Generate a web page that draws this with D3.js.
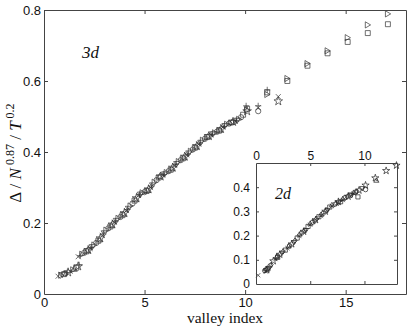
<!DOCTYPE html>
<html>
<head>
<meta charset="utf-8">
<script src="https://cdn.jsdelivr.net/npm/d3@7"></script>
<style>
  body { margin: 0; background: #fff; }
  svg { display: block; }
  .tick text { font-family: "Liberation Sans", Arial, sans-serif; fill: #111; }
  .serif { font-family: "Liberation Serif", "Times New Roman", serif; fill: #111; }
</style>
</head>
<body>
<div id="chart"></div>
<script>
// main panel (3d): one x/y array pair per marker type
const mainTriRightX = [0.85, 1.45, 1.9, 2.5, 3.1, 3.7, 4.3, 4.9, 5.5, 6.1, 6.7, 7.3, 7.9, 8.5, 9.1, 9.7, 10.1, 11.1, 12.1, 13.1, 14.1, 15.1, 16.1, 17.1]
const mainTriRightY = [0.053, 0.068, 0.112, 0.138, 0.180, 0.213, 0.248, 0.285, 0.315, 0.342, 0.373, 0.402, 0.433, 0.454, 0.478, 0.492, 0.518, 0.562, 0.607, 0.649, 0.685, 0.722, 0.758, 0.789]
const mainSquareX = [1.0, 1.6, 2.1, 2.7, 3.3, 3.9, 4.5, 5.1, 5.7, 6.3, 6.9, 7.5, 8.1, 8.7, 9.3, 9.9, 10.1, 11.1, 12.1, 13.1, 14.1, 15.1, 16.1, 17.1]
const mainSquareY = [0.056, 0.074, 0.120, 0.150, 0.190, 0.222, 0.263, 0.290, 0.328, 0.350, 0.382, 0.412, 0.442, 0.460, 0.483, 0.505, 0.522, 0.568, 0.600, 0.643, 0.678, 0.710, 0.735, 0.760]
const mainCrossX = [0.7, 1.3, 1.7, 2.3, 2.9, 3.5, 4.1, 4.7, 5.3, 5.9, 6.5, 7.1, 7.7, 8.3, 8.9, 9.5, 10.65, 11.65]
const mainCrossY = [0.050, 0.064, 0.105, 0.128, 0.165, 0.202, 0.235, 0.278, 0.300, 0.335, 0.362, 0.392, 0.422, 0.448, 0.470, 0.487, 0.525, 0.556]
const mainPlusX = [1.15, 1.75, 1.8, 2.35, 2.95, 3.55, 4.15, 4.75, 5.35, 5.95, 6.55, 7.15, 7.75, 8.35, 8.95, 9.55, 10.05, 10.65, 11.1]
const mainPlusY = [0.060, 0.082, 0.108, 0.131, 0.169, 0.205, 0.238, 0.280, 0.304, 0.337, 0.365, 0.394, 0.425, 0.450, 0.472, 0.488, 0.530, 0.530, 0.575]
const mainStarX = [1.2, 1.7, 2.2, 2.8, 3.4, 4.0, 4.6, 5.2, 5.8, 6.4, 7.0, 7.6, 8.2, 8.8, 9.4, 10.1, 11.65]
const mainStarY = [0.061, 0.078, 0.124, 0.157, 0.196, 0.228, 0.270, 0.295, 0.331, 0.356, 0.387, 0.417, 0.445, 0.465, 0.485, 0.515, 0.543]
const mainCircleX = [1.05, 2.0, 2.6, 3.2, 3.8, 4.4, 5.0, 5.6, 6.2, 6.8, 7.4, 8.0, 8.6, 9.2, 9.8, 10.65]
const mainCircleY = [0.058, 0.116, 0.144, 0.185, 0.217, 0.255, 0.287, 0.321, 0.346, 0.377, 0.407, 0.437, 0.457, 0.480, 0.498, 0.515]
const mainTriDownX = [0.9, 2.4, 3.0, 3.6, 4.2, 4.8, 5.4, 6.0, 6.6, 7.2, 7.8, 8.4, 9.0, 9.6]
const mainTriDownY = [0.054, 0.133, 0.172, 0.207, 0.241, 0.281, 0.307, 0.338, 0.367, 0.397, 0.427, 0.451, 0.474, 0.489]
const mainTriUpX = [1.5, 2.15, 2.75, 3.35, 3.95, 4.55, 5.15, 5.75, 6.35, 6.95, 7.55, 8.15, 8.75, 9.35]
const mainTriUpY = [0.070, 0.122, 0.153, 0.193, 0.225, 0.266, 0.292, 0.331, 0.353, 0.384, 0.414, 0.443, 0.462, 0.484]

// inset (2d)
const insetCrossX = [0.2, 0.9, 1.8, 2.9, 4.0, 5.0, 6.0, 7.0, 8.0, 9.0]
const insetCrossY = [0.036, 0.052, 0.103, 0.148, 0.198, 0.245, 0.282, 0.322, 0.347, 0.374]
const insetCircleX = [0.8, 1.3, 2.0, 3.1, 4.2, 5.2, 6.2, 7.3, 8.2, 9.2, 10.1]
const insetCircleY = [0.055, 0.075, 0.115, 0.158, 0.210, 0.255, 0.292, 0.330, 0.357, 0.380, 0.390]
const insetStarX = [1.0, 1.6, 2.2, 3.3, 4.4, 5.5, 6.4, 7.6, 8.5, 9.5, 10.1, 11.0, 12.0, 12.95]
const insetStarY = [0.058, 0.095, 0.122, 0.165, 0.217, 0.265, 0.300, 0.340, 0.362, 0.387, 0.408, 0.438, 0.468, 0.490]
const insetSquareX = [1.1, 2.0, 2.7, 3.8, 4.8, 5.8, 6.8, 7.8, 8.7, 9.4]
const insetSquareY = [0.062, 0.110, 0.140, 0.190, 0.238, 0.278, 0.318, 0.340, 0.368, 0.360]
const insetTriDownX = [1.2, 2.4, 3.5, 4.6, 5.4, 6.6, 7.6, 8.8, 9.8]
const insetTriDownY = [0.066, 0.128, 0.172, 0.222, 0.258, 0.305, 0.335, 0.366, 0.395]
const insetTriUpX = [0.9, 1.9, 3.0, 4.0, 5.0, 6.0, 7.0, 8.0, 9.0, 11.1]
const insetTriUpY = [0.062, 0.112, 0.156, 0.205, 0.250, 0.287, 0.327, 0.352, 0.378, 0.428]
const insetDiamondX = [1.4, 2.5, 3.6, 4.5, 5.6, 6.5, 7.4, 8.4, 9.3]
const insetDiamondY = [0.080, 0.135, 0.180, 0.222, 0.270, 0.305, 0.333, 0.360, 0.383]

const mainXTicks = [0, 5, 10, 15]
const mainYTicks = [0, 0.2, 0.4, 0.6, 0.8]
const insetXTicks = [0, 5, 10]
const insetYTicks = [0, 0.1, 0.2, 0.3, 0.4]

const mainSeries = [
    { shape: 'triRight', xs: mainTriRightX, ys: mainTriRightY },
    { shape: 'square', xs: mainSquareX, ys: mainSquareY },
    { shape: 'triDown', xs: mainTriDownX, ys: mainTriDownY },
    { shape: 'triUp', xs: mainTriUpX, ys: mainTriUpY },
    { shape: 'circle', xs: mainCircleX, ys: mainCircleY },
    { shape: 'cross', xs: mainCrossX, ys: mainCrossY },
    { shape: 'plus', xs: mainPlusX, ys: mainPlusY },
    { shape: 'star', xs: mainStarX, ys: mainStarY },
]
const insetSeries = [
    { shape: 'square', xs: insetSquareX, ys: insetSquareY },
    { shape: 'triDown', xs: insetTriDownX, ys: insetTriDownY },
    { shape: 'triUp', xs: insetTriUpX, ys: insetTriUpY },
    { shape: 'diamond', xs: insetDiamondX, ys: insetDiamondY },
    { shape: 'circle', xs: insetCircleX, ys: insetCircleY },
    { shape: 'cross', xs: insetCrossX, ys: insetCrossY },
    { shape: 'star', xs: insetStarX, ys: insetStarY },
]

const W = 409
const H = 328
const FRAME = '#444'

const svg = d3.select('#chart').append('svg')
    .attr('width', W)
    .attr('height', H)

function markerPath(shape, s) {
    switch (shape) {
        case 'triRight':
            return `M${-s * 0.8},${-s}L${s * 0.9},0L${-s * 0.8},${s}Z`
        case 'triDown':
            return `M${-s},${-s * 0.7}L${s},${-s * 0.7}L0,${s}Z`
        case 'triUp':
            return `M${-s},${s * 0.7}L${s},${s * 0.7}L0,${-s}Z`
        case 'square':
            return `M${-s * 0.8},${-s * 0.8}h${s * 1.6}v${s * 1.6}h${-s * 1.6}Z`
        case 'cross':
            return `M${-s * 0.8},${-s * 0.8}L${s * 0.8},${s * 0.8}M${-s * 0.8},${s * 0.8}L${s * 0.8},${-s * 0.8}`
        case 'plus':
            return `M${-s},0L${s},0M0,${-s}L0,${s}`
        case 'diamond':
            return `M0,${-s}L${s * 0.8},0L0,${s}L${-s * 0.8},0Z`
        case 'circle':
            return d3.symbol(d3.symbolCircle, Math.PI * (s * 0.85) ** 2)()
        case 'star':
            return d3.symbol(d3.symbolStar, 2.4 * s * s)()
        default:
            return ''
    }
}

function drawPanel(g, x, y, opts) {
    const [x0, x1] = x.range()
    const [y0, y1] = y.range()

    g.append('rect')
        .attr('x', x0).attr('y', y1)
        .attr('width', x1 - x0).attr('height', y0 - y1)
        .attr('fill', '#fff')

    // markers
    opts.series.forEach((ser) => {
        g.append('g').selectAll('path')
            .data(ser.xs.map((v, i) => [v, ser.ys[i]]))
            .join('path')
            .attr('transform', (d) => `translate(${x(d[0])},${y(d[1])})`)
            .attr('d', markerPath(ser.shape, opts.markerSize))
            .attr('fill', 'none')
            .attr('stroke', opts.markerColor)
            .attr('stroke-width', 0.7)
    })

    const font = opts.fontSize
    const bottom = g.append('g')
        .attr('transform', `translate(0,${y0})`)
        .call(d3.axisBottom(x).tickValues(opts.xTicks).tickSizeInner(-opts.tick)
            .tickSizeOuter(0).tickPadding(opts.xPad).tickFormat(opts.xLabelsBottom ? d3.format('d') : ''))
    const top = g.append('g')
        .attr('transform', `translate(0,${y1})`)
        .call(d3.axisTop(x).tickValues(opts.xTicks).tickSizeInner(-opts.tick)
            .tickSizeOuter(0).tickPadding(opts.xPad).tickFormat(opts.xLabelsBottom ? '' : d3.format('d')))
    const left = g.append('g')
        .attr('transform', `translate(${x0},0)`)
        .call(d3.axisLeft(y).tickValues(opts.yTicks).tickSizeInner(-opts.tick)
            .tickSizeOuter(0).tickPadding(opts.yPad).tickFormat((d) => (d === 0 ? '0' : d3.format('.1f')(d))))
    const right = g.append('g')
        .attr('transform', `translate(${x1},0)`)
        .call(d3.axisRight(y).tickValues(opts.yTicks).tickSizeInner(-opts.tick)
            .tickSizeOuter(0).tickFormat(''))

    ;[bottom, top, left, right].forEach((a) => {
        a.select('.domain').attr('stroke', FRAME)
        a.selectAll('.tick line').attr('stroke', FRAME)
        a.selectAll('.tick text').style('font-size', `${font}px`)
    })
    // drop tick marks at the box corners
    ;[bottom, top].forEach((a) => a.selectAll('.tick line').filter((d) => d === x.domain()[0]).remove())
    ;[left, right].forEach((a) => a.selectAll('.tick line').filter((d) => d === y.domain()[0]).remove())
}

// main panel
const xMain = d3.scaleLinear().domain([0, 18]).range([44, 406])
const yMain = d3.scaleLinear().domain([0, 0.8]).range([294, 10])

drawPanel(svg.append('g'), xMain, yMain, {
    series: mainSeries,
    markerSize: 3.1,
    markerColor: '#333',
    xTicks: mainXTicks,
    yTicks: mainYTicks,
    tick: 4,
    xPad: 4,
    yPad: 3,
    fontSize: 13,
    xLabelsBottom: true,
})

svg.append('text')
    .attr('class', 'serif')
    .attr('x', 82).attr('y', 58)
    .style('font-size', '17px')
    .style('font-style', 'italic')
    .text('3d')

svg.append('text')
    .attr('class', 'serif')
    .attr('x', 225).attr('y', 323)
    .attr('text-anchor', 'middle')
    .style('font-size', '15.5px')
    .text('valley index')

const yLab = svg.append('text')
    .attr('class', 'serif')
    .attr('transform', 'translate(21,153) rotate(-90)')
    .attr('text-anchor', 'middle')
    .style('font-size', '17px')
yLab.append('tspan').text('\u0394 / ')
yLab.append('tspan').style('font-style', 'italic').text('N')
yLab.append('tspan').attr('dy', -7).style('font-size', '12px').text(' 0.87')
yLab.append('tspan').attr('dy', 7).text(' / ')
yLab.append('tspan').style('font-style', 'italic').text('T')
yLab.append('tspan').attr('dy', -7).style('font-size', '12px').text(' 0.2')

// inset panel
const xIn = d3.scaleLinear().domain([0, 13]).range([256, 397])
const yIn = d3.scaleLinear().domain([0, 0.5]).range([284, 163])

drawPanel(svg.append('g'), xIn, yIn, {
    series: insetSeries,
    markerSize: 2.6,
    markerColor: '#222',
    xTicks: insetXTicks,
    yTicks: insetYTicks,
    tick: 3,
    xPad: 3,
    yPad: 6,
    fontSize: 12,
    xLabelsBottom: false,
})

svg.append('text')
    .attr('class', 'serif')
    .attr('x', 275).attr('y', 199)
    .style('font-size', '16px')
    .style('font-style', 'italic')
    .text('2d')
</script>
</body>
</html>
